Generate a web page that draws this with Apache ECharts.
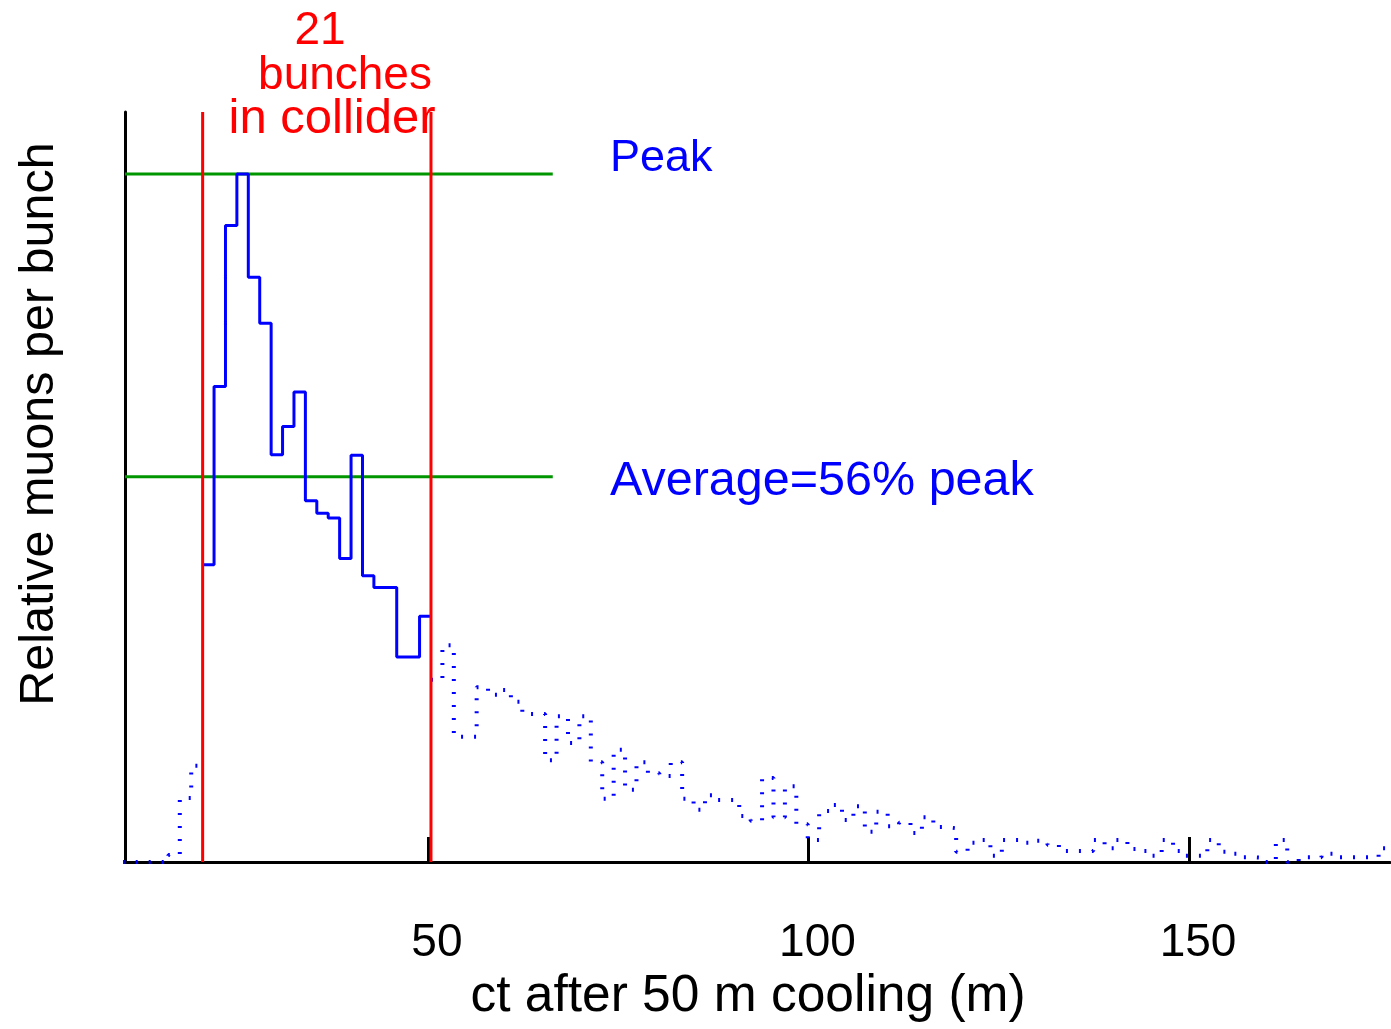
<!DOCTYPE html>
<html>
<head>
<meta charset="utf-8">
<title>Relative muons per bunch</title>
<script src="https://cdn.jsdelivr.net/npm/echarts@6/dist/echarts.min.js"></script>
<style>
  html, body { margin: 0; padding: 0; background: #ffffff; }
  #chart { width: 1391px; height: 1029px; }
</style>
</head>
<body>
<div id="chart"></div>
<script>
// Histogram binning (metres of ct after 50 m of cooling)
const BIN_WIDTH = 1.5;
const FIRST_EDGE = 9.9;

// Bins ahead of the collider window (dotted)
const leadingBins = [0, 0, 0, 0, 1.0, 9.3, 14.0];
// The 21 bunches kept in the collider (solid), relative to the peak = 100
const colliderBins = [43.2, 69.1, 92.5, 100, 85.0, 78.3, 59.2, 63.3, 68.3, 52.5,
                      50.7, 50.0, 44.1, 59.1, 41.6, 39.9, 39.9, 29.8, 29.8, 35.7];
// Trailing bins after the collider window (dotted)
const trailingBins = [26.5, 31.5, 18.2, 18.2, 25.4, 24.3, 25.0, 23.3, 21.5, 21.5,
                      14.8, 21.2, 17.3, 21.2, 14.5, 9.2, 16.3, 10.5, 14.5, 12.9,
                      12.5, 14.5, 9.2, 7.6, 9.7, 9.0, 9.0, 6.7, 6.0, 12.2,
                      6.5, 11.0, 5.5, 3.2, 7.4, 8.3, 6.1, 8.1, 4.4, 7.3,
                      5.2, 5.7, 4.2, 6.5, 5.1, 4.9, 1.5, 2.8, 3.2, 0.9,
                      3.2, 3.2, 2.8, 3.1, 2.5, 1.6, 1.6, 1.6, 3.2, 2.0,
                      3.2, 1.9, 1.6, 0.9, 3.2, 1.6, 0.9, 0.9, 3.2, 1.5,
                      1.2, 0.7, 0.6, 0, 3.2, 0, 0.7, 0.7, 1.2, 0.7,
                      0.7, 0.7, 0.7, 2.0];

// Collider window edges and reference levels
const colliderEdges = [20.4, 50.4];
const peakLevel = 100;
const averageLevel = 56;
const referenceLineEnd = 66.4;

// Axis settings
const X_MIN = 10.2, X_MAX = 176.4, Y_MAX = 109;
const xTickValues = [50, 100, 150];

const BLUE = '#0000ff', RED = '#ff0000', GREEN = '#009600';
const FONT = '"Liberation Sans", Arial, sans-serif';

// Turn a run of bin heights into step-line vertices (left edge of each bin + closing edge)
function stepPoints(values, startEdge) {
  const pts = values.map((v, i) => [startEdge + i * BIN_WIDTH, v]);
  pts.push([startEdge + values.length * BIN_WIDTH, values[values.length - 1]]);
  return pts;
}

const leadStart = FIRST_EDGE;
const colliderStart = leadStart + leadingBins.length * BIN_WIDTH;
const trailStart = colliderStart + colliderBins.length * BIN_WIDTH;

const dotted = { color: BLUE, width: 4, type: [2, 11], cap: 'butt' };

const chart = echarts.init(document.getElementById('chart'), null, { renderer: 'canvas' });

const option = {
  backgroundColor: '#ffffff',
  animation: false,
  grid: { left: 125, right: 1, top: 112, bottom: 167, containLabel: false },
  xAxis: {
    type: 'value',
    min: X_MIN,
    max: X_MAX,
    axisLine: { show: true, onZero: false, lineStyle: { color: '#000', width: 3 } },
    axisTick: { show: true, inside: true, length: 25, customValues: xTickValues,
                lineStyle: { color: '#000', width: 3 } },
    axisLabel: { show: true, customValues: xTickValues, color: '#000',
                 fontFamily: FONT, fontSize: 46, margin: 58, padding: [0, 0, 0, 18] },
    splitLine: { show: false }
  },
  yAxis: {
    type: 'value',
    min: 0,
    max: Y_MAX,
    axisLine: { show: true, lineStyle: { color: '#000', width: 3 } },
    axisTick: { show: false },
    axisLabel: { show: false },
    splitLine: { show: false }
  },
  series: [
    {
      name: 'peak', type: 'line', symbol: 'none', silent: true, z: 2,
      lineStyle: { color: GREEN, width: 3 },
      data: [[X_MIN, peakLevel], [referenceLineEnd, peakLevel]]
    },
    {
      name: 'average', type: 'line', symbol: 'none', silent: true, z: 2,
      lineStyle: { color: GREEN, width: 3 },
      data: [[X_MIN, averageLevel], [referenceLineEnd, averageLevel]]
    },
    {
      name: 'leading', type: 'line', step: 'end', symbol: 'none', z: 3,
      lineStyle: dotted, data: stepPoints(leadingBins, leadStart)
    },
    {
      name: 'collider', type: 'line', step: 'end', symbol: 'none', z: 3,
      lineStyle: { color: BLUE, width: 3 }, data: stepPoints(colliderBins, colliderStart)
    },
    {
      name: 'trailing', type: 'line', step: 'end', symbol: 'none', z: 3,
      lineStyle: dotted, data: stepPoints(trailingBins, trailStart)
    },
    ...colliderEdges.map((x, i) => ({
      name: 'edge' + i, type: 'line', symbol: 'none', silent: true, z: 4,
      lineStyle: { color: RED, width: 3 },
      data: [[x, 0], [x, Y_MAX]]
    }))
  ],
  graphic: [
    { type: 'text', x: 320, y: 31, style: { text: '21', fill: RED, font: '46px ' + FONT, align: 'center', verticalAlign: 'middle' } },
    { type: 'text', x: 345, y: 76, style: { text: 'bunches', fill: RED, font: '46px ' + FONT, align: 'center', verticalAlign: 'middle' } },
    { type: 'text', x: 332, y: 119, style: { text: 'in collider', fill: RED, font: '49px ' + FONT, align: 'center', verticalAlign: 'middle' } },
    { type: 'text', x: 610, y: 159, style: { text: 'Peak', fill: BLUE, font: '45px ' + FONT, align: 'left', verticalAlign: 'middle' } },
    { type: 'text', x: 610, y: 482, style: { text: 'Average=56% peak', fill: BLUE, font: '48.5px ' + FONT, align: 'left', verticalAlign: 'middle' } },
    { type: 'text', x: 748, y: 997, style: { text: 'ct after 50 m cooling (m)', fill: '#000', font: '51.5px ' + FONT, align: 'center', verticalAlign: 'middle' } },
    { type: 'text', x: 40, y: 424, rotation: Math.PI / 2, style: { text: 'Relative muons per bunch', fill: '#000', font: '48.5px ' + FONT, align: 'center', verticalAlign: 'middle' } }
  ]
};

chart.setOption(option);
</script>
</body>
</html>
